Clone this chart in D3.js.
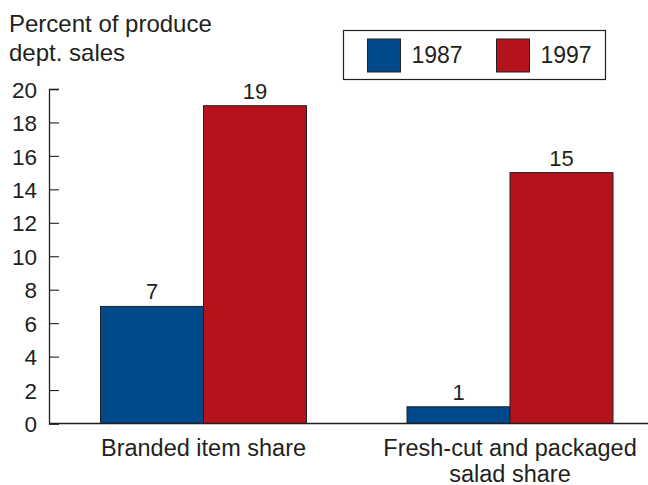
<!DOCTYPE html>
<html>
<head>
<meta charset="utf-8">
<script src="https://cdn.jsdelivr.net/npm/d3@7"></script>
<style>
  body { margin: 0; background: #fff; }
  text { font-family: "Liberation Sans", Arial, Helvetica, sans-serif; fill: #231f20; }
</style>
</head>
<body>
<div id="chart"></div>
<script>
// data
const categories = ["Branded item share", "Fresh-cut and packaged\nsalad share"];
const years = ["1987", "1997"];
const values1987 = [7, 1];
const values1997 = [19, 15];
const yTicks = [0, 2, 4, 6, 8, 10, 12, 14, 16, 18, 20];
const colors = ["#004a8c", "#b5121b"];

const svgWidth = 648;
const svgHeight = 485;

const svg = d3.select("#chart")
  .append("svg")
  .attr("width", svgWidth)
  .attr("height", svgHeight);

const axisX = 49;
const y = d3.scaleLinear().domain([0, 20]).range([423.5, 89]);

const x0 = d3.scaleBand()
  .domain(categories)
  .range([50.25, 663.25])
  .paddingInner(0.328)
  .paddingOuter(0.164);

const x1 = d3.scaleBand()
  .domain(years)
  .range([0, x0.bandwidth()]);

const rows = categories.map((c, i) => ({
  cat: c,
  vals: [
    { year: "1987", v: values1987[i] },
    { year: "1997", v: values1997[i] }
  ]
}));

// y axis, ticks point inward
const leftAxis = d3.axisRight(y).tickValues(yTicks).tickSize(10);
const yAxis = svg.append("g")
  .attr("transform", `translate(${axisX},0)`)
  .call(leftAxis);
yAxis.select(".domain").attr("stroke", "#231f20").attr("stroke-width", 1.3);
yAxis.selectAll(".tick line").attr("stroke", "#231f20").attr("stroke-width", 1.1);
yAxis.selectAll(".tick text")
  .attr("text-anchor", "end")
  .attr("x", -12)
  .attr("dy", "0.36em")
  .style("font-size", "22.5px");

// bars
const groups = svg.append("g").selectAll("g")
  .data(rows)
  .enter()
  .append("g")
  .attr("transform", d => `translate(${x0(d.cat)},0)`);

groups.selectAll("rect")
  .data(d => d.vals)
  .enter()
  .append("rect")
  .attr("x", d => x1(d.year))
  .attr("y", d => y(d.v))
  .attr("width", x1.bandwidth())
  .attr("height", d => y(0) - y(d.v))
  .attr("fill", (d, i) => colors[i])
  .attr("stroke", "#231f20")
  .attr("stroke-width", 1);

groups.selectAll("text.val")
  .data(d => d.vals)
  .enter()
  .append("text")
  .attr("class", "val")
  .attr("x", d => x1(d.year) + x1.bandwidth() / 2)
  .attr("y", d => y(d.v) - 7)
  .attr("text-anchor", "middle")
  .style("font-size", "22px")
  .text(d => d.v);

// baseline
svg.append("line")
  .attr("x1", axisX)
  .attr("x2", svgWidth)
  .attr("y1", y(0))
  .attr("y2", y(0))
  .attr("stroke", "#231f20")
  .attr("stroke-width", 1.6);

// category labels
const catLabels = svg.append("g").selectAll("text")
  .data(categories)
  .enter()
  .append("text")
  .attr("x", d => x0(d) + x0.bandwidth() / 2)
  .attr("y", 456)
  .attr("text-anchor", "middle")
  .style("font-size", "23.5px");
catLabels.each(function(d) {
  const t = d3.select(this);
  d.split("\n").forEach((line, i) => {
    t.append("tspan")
      .attr("x", x0(d) + x0.bandwidth() / 2)
      .attr("dy", i === 0 ? 0 : 25.5)
      .text(line);
  });
});

// title
const title = svg.append("text")
  .attr("x", 9)
  .attr("y", 32)
  .style("font-size", "24px");
title.append("tspan").attr("x", 9).text("Percent of produce");
title.append("tspan").attr("x", 9).attr("dy", 29).text("dept. sales");

// legend
const legend = svg.append("g");
legend.append("rect")
  .attr("x", 343.5)
  .attr("y", 30.5)
  .attr("width", 262)
  .attr("height", 49)
  .attr("fill", "#fff")
  .attr("stroke", "#231f20")
  .attr("stroke-width", 1.2);

const legendX = [367.5, 496.5];
years.forEach((yr, i) => {
  legend.append("rect")
    .attr("x", legendX[i])
    .attr("y", 39)
    .attr("width", 33)
    .attr("height", 33)
    .attr("fill", colors[i])
    .attr("stroke", "#231f20")
    .attr("stroke-width", 1);
  legend.append("text")
    .attr("x", legendX[i] + 44)
    .attr("y", 63)
    .style("font-size", "23px")
    .text(yr);
});
</script>
</body>
</html>
